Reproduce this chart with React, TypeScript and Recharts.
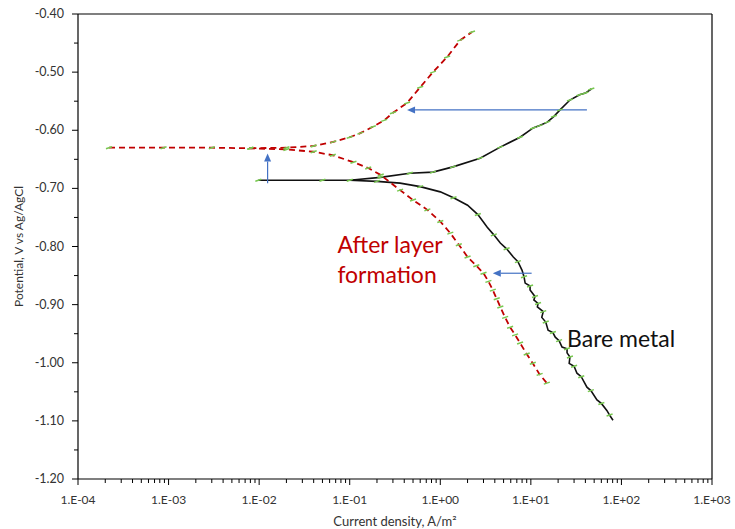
import React from 'react';
import {
  LineChart,
  Line,
  XAxis,
  YAxis,
  ReferenceLine,
  ReferenceDot,
} from 'recharts';

interface Pt {
  x: number;
  y: number;
}

// x axis: log decades and their labels
const xDecades = [1e-4, 1e-3, 1e-2, 1e-1, 1, 10, 100, 1000];
const xTickLabels = ['1.E-04', '1.E-03', '1.E-02', '1.E-01', '1.E+00', '1.E+01', '1.E+02', '1.E+03'];
const minorSteps = [2, 3, 4, 5, 6, 7, 8, 9];

// y axis: major + minor ticks
const yTicks = [-1.2, -1.15, -1.1, -1.05, -1.0, -0.95, -0.9, -0.85, -0.8, -0.75, -0.7, -0.65, -0.6, -0.55, -0.5, -0.45, -0.4];

// after layer formation, cathodic branch
const afterCathodic: Pt[] = [
  { x: 2.2e-4, y: -0.63 }, { x: 8.8e-4, y: -0.63 }, { x: 3e-3, y: -0.63 }, { x: 8e-3, y: -0.631 },
  { x: 0.02, y: -0.633 }, { x: 0.04, y: -0.637 }, { x: 0.065, y: -0.643 }, { x: 0.11, y: -0.655 },
  { x: 0.16, y: -0.665 }, { x: 0.22, y: -0.677 }, { x: 0.36, y: -0.703 }, { x: 0.5, y: -0.72 },
  { x: 0.72, y: -0.737 }, { x: 1.0, y: -0.757 }, { x: 1.29, y: -0.777 }, { x: 1.6, y: -0.797 },
  { x: 2.0, y: -0.818 }, { x: 2.5, y: -0.833 }, { x: 3.0, y: -0.846 }, { x: 3.4, y: -0.86 },
  { x: 3.8, y: -0.875 }, { x: 4.2, y: -0.89 }, { x: 4.6, y: -0.904 }, { x: 5.2, y: -0.922 },
  { x: 5.9, y: -0.939 }, { x: 6.7, y: -0.952 }, { x: 7.6, y: -0.966 }, { x: 9.0, y: -0.985 },
  { x: 10.5, y: -1.001 }, { x: 12.5, y: -1.02 }, { x: 15, y: -1.035 },
];

// after layer formation, anodic branch
const afterAnodic: Pt[] = [
  { x: 8e-3, y: -0.631 }, { x: 0.02, y: -0.63 }, { x: 0.04, y: -0.627 }, { x: 0.066, y: -0.62 },
  { x: 0.1, y: -0.612 }, { x: 0.131, y: -0.605 }, { x: 0.18, y: -0.594 }, { x: 0.24, y: -0.583 },
  { x: 0.3, y: -0.57 }, { x: 0.43, y: -0.553 }, { x: 0.6, y: -0.526 }, { x: 0.83, y: -0.5 },
  { x: 1.19, y: -0.474 }, { x: 1.66, y: -0.445 }, { x: 2.24, y: -0.431 },
];

// bare metal, cathodic branch (jagged tail)
const bareCathodic: Pt[] = [
  { x: 0.0098, y: -0.686 }, { x: 0.02, y: -0.686 }, { x: 0.05, y: -0.686 }, { x: 0.1, y: -0.686 },
  { x: 0.2, y: -0.688 }, { x: 0.36, y: -0.691 }, { x: 0.6, y: -0.697 }, { x: 1.0, y: -0.706 },
  { x: 1.4, y: -0.716 }, { x: 2.0, y: -0.729 }, { x: 2.6, y: -0.745 }, { x: 3.3, y: -0.767 },
  { x: 3.9, y: -0.78 }, { x: 4.6, y: -0.794 }, { x: 5.4, y: -0.804 }, { x: 6.4, y: -0.818 },
  { x: 7.2, y: -0.826 }, { x: 8.0, y: -0.841 }, { x: 8.4, y: -0.852 }, { x: 8.65, y: -0.863 },
  { x: 9.8, y: -0.868 }, { x: 9.8, y: -0.875 }, { x: 11.1, y: -0.886 }, { x: 10.8, y: -0.892 },
  { x: 12.0, y: -0.898 }, { x: 11.8, y: -0.904 }, { x: 13.7, y: -0.912 }, { x: 13.2, y: -0.922 },
  { x: 14.6, y: -0.93 }, { x: 15.5, y: -0.944 }, { x: 17.5, y: -0.948 }, { x: 18.6, y: -0.956 },
  { x: 20.5, y: -0.962 }, { x: 22.1, y: -0.973 }, { x: 25.1, y: -0.976 }, { x: 25.1, y: -0.983 },
  { x: 27, y: -0.99 }, { x: 26.5, y: -1.001 }, { x: 30, y: -1.006 }, { x: 32.3, y: -1.018 },
  { x: 36, y: -1.024 }, { x: 41.6, y: -1.042 }, { x: 46, y: -1.048 }, { x: 53.7, y: -1.064 },
  { x: 60, y: -1.07 }, { x: 69, y: -1.082 }, { x: 74, y: -1.09 }, { x: 80.7, y: -1.099 },
];

// bare metal, anodic branch
const bareAnodic: Pt[] = [
  { x: 0.1, y: -0.686 }, { x: 0.218, y: -0.681 }, { x: 0.46, y: -0.674 }, { x: 0.83, y: -0.672 },
  { x: 1.38, y: -0.663 }, { x: 2.75, y: -0.648 }, { x: 4.59, y: -0.629 }, { x: 7.6, y: -0.612 },
  { x: 10.6, y: -0.596 }, { x: 12.5, y: -0.592 }, { x: 15.2, y: -0.586 }, { x: 18, y: -0.576 },
  { x: 21, y: -0.565 }, { x: 27, y: -0.548 }, { x: 34.5, y: -0.539 }, { x: 40, y: -0.536 },
  { x: 46.5, y: -0.529 },
];

// arrows (data coords: from -> to)
const arrows = [
  { from: { x: 0.0124, y: -0.691 }, to: { x: 0.0124, y: -0.64 } },
  { from: { x: 41.6, y: -0.565 }, to: { x: 0.43, y: -0.565 } },
  { from: { x: 10.2, y: -0.846 }, to: { x: 3.8, y: -0.846 } },
];

const xTicks = [
  ...xDecades,
  ...xDecades.slice(0, -1).flatMap((d) => minorSteps.map((m) => d * m)),
].sort((a, b) => a - b);

const FONT = 'Lato, "Open Sans", sans-serif';
const RED = '#c00000';
const BLUE = '#4472c4';

const XTick = (props: any) => {
  const { x, y, payload } = props;
  const i = xDecades.indexOf(payload.value);
  const major = i >= 0;
  return (
    <g>
      <line x1={x} y1={y} x2={x} y2={y + (major ? 6 : 4)} stroke="#000" strokeWidth={1} />
      {major && (
        <text x={x} y={y + 25} textAnchor="middle" fontSize={12} fill="#333" fontFamily={FONT}>
          {xTickLabels[i]}
        </text>
      )}
    </g>
  );
};

const YTick = (props: any) => {
  const { x, y, payload } = props;
  const v = payload.value as number;
  const major = Math.round(v * 100) % 10 === 0;
  return (
    <g>
      <line x1={x - (major ? 6 : 4)} y1={y} x2={x} y2={y} stroke="#000" strokeWidth={1} />
      {major && (
        <text x={x - 14} y={y + 4} textAnchor="end" fontSize={12.5} fill="#333" fontFamily={FONT}>
          {v.toFixed(2)}
        </text>
      )}
    </g>
  );
};

const makeMarker = (every: number) => (p: any) => {
  if (p.cx == null || p.cy == null || p.index % every !== 0) return <g key={`m-${p.index}`} />;
  return (
    <line
      key={`m-${p.index}`}
      x1={p.cx - 3}
      y1={p.cy + 1}
      x2={p.cx + 3}
      y2={p.cy - 1}
      stroke="#78c850"
      strokeWidth={1.5}
    />
  );
};

const arrowShape = (p: any) => {
  const { x1, y1, x2, y2 } = p;
  const a = Math.atan2(y2 - y1, x2 - x1);
  const L = 8;
  const W = 3.5;
  const bx = x2 - L * Math.cos(a);
  const by = y2 - L * Math.sin(a);
  const px = -Math.sin(a) * W;
  const py = Math.cos(a) * W;
  return (
    <g>
      <line x1={x1} y1={y1} x2={bx} y2={by} stroke={BLUE} strokeWidth={1.2} />
      <polygon points={`${x2},${y2} ${bx + px},${by + py} ${bx - px},${by - py}`} fill={BLUE} />
    </g>
  );
};

export default function App() {
  return (
    <div style={{ position: 'absolute', left: 0, top: 0, background: '#fff' }}>
      <LineChart width={735} height={529} margin={{ top: 14, right: 23, bottom: 0, left: 8 }}>
        <XAxis
          type="number"
          dataKey="x"
          scale="log"
          domain={[1e-4, 1000]}
          allowDataOverflow
          ticks={xTicks}
          interval={0}
          tick={<XTick />}
          tickLine={false}
          tickSize={0}
          tickMargin={0}
          height={50}
          axisLine={{ stroke: '#000', strokeWidth: 1.2 }}
          label={{
            content: (lp: any) => {
              const vb = lp.viewBox;
              return (
                <text x={vb.x + vb.width / 2} y={vb.y + vb.height - 3} textAnchor="middle" fontSize={13} fill="#333" fontFamily={FONT}>
                  Current density, A/m²
                </text>
              );
            },
          }}
        />
        <YAxis
          type="number"
          dataKey="y"
          domain={[-1.2, -0.4]}
          allowDataOverflow
          ticks={yTicks}
          interval={0}
          tick={<YTick />}
          tickLine={false}
          tickSize={0}
          tickMargin={0}
          width={70}
          axisLine={{ stroke: '#000', strokeWidth: 1.2 }}
          label={{
            content: (lp: any) => {
              const vb = lp.viewBox;
              const cx = vb.x + 10;
              const cy = vb.y + vb.height / 2;
              return (
                <text x={cx} y={cy} transform={`rotate(-90, ${cx}, ${cy})`} textAnchor="middle" dominantBaseline="central" fontSize={12} fill="#333" fontFamily={FONT}>
                  Potential, V vs Ag/AgCl
                </text>
              );
            },
          }}
        />
        <ReferenceLine y={-0.4} stroke="#000" strokeWidth={1.2} />
        <ReferenceLine x={1000} stroke="#000" strokeWidth={1.2} />

        <Line data={bareCathodic} dataKey="y" type="linear" stroke="#111" strokeWidth={1.6} dot={makeMarker(2)} activeDot={false} isAnimationActive={false} />
        <Line data={bareAnodic} dataKey="y" type="linear" stroke="#111" strokeWidth={1.6} dot={makeMarker(1)} activeDot={false} isAnimationActive={false} />
        <Line data={afterCathodic} dataKey="y" type="linear" stroke={RED} strokeWidth={1.8} strokeDasharray="6 4" dot={makeMarker(1)} activeDot={false} isAnimationActive={false} />
        <Line data={afterAnodic} dataKey="y" type="linear" stroke={RED} strokeWidth={1.8} strokeDasharray="6 4" dot={makeMarker(1)} activeDot={false} isAnimationActive={false} />

        {arrows.map((a, i) => (
          <ReferenceLine key={`arr-${i}`} segment={[a.from, a.to]} shape={arrowShape} />
        ))}

        <ReferenceDot
          x={0.0731}
          y={-0.811}
          r={0}
          shape={(p: any) => (
            <text x={p.cx} y={p.cy} fontSize={23} fill={RED} fontFamily={FONT}>
              <tspan x={p.cx}>After layer</tspan>
              <tspan x={p.cx} dy={30}>formation</tspan>
            </text>
          )}
        />
        <ReferenceDot
          x={25.1}
          y={-0.973}
          r={0}
          shape={(p: any) => (
            <text x={p.cx} y={p.cy} fontSize={23} fill="#111" fontFamily={FONT}>
              Bare metal
            </text>
          )}
        />
      </LineChart>
    </div>
  );
}
